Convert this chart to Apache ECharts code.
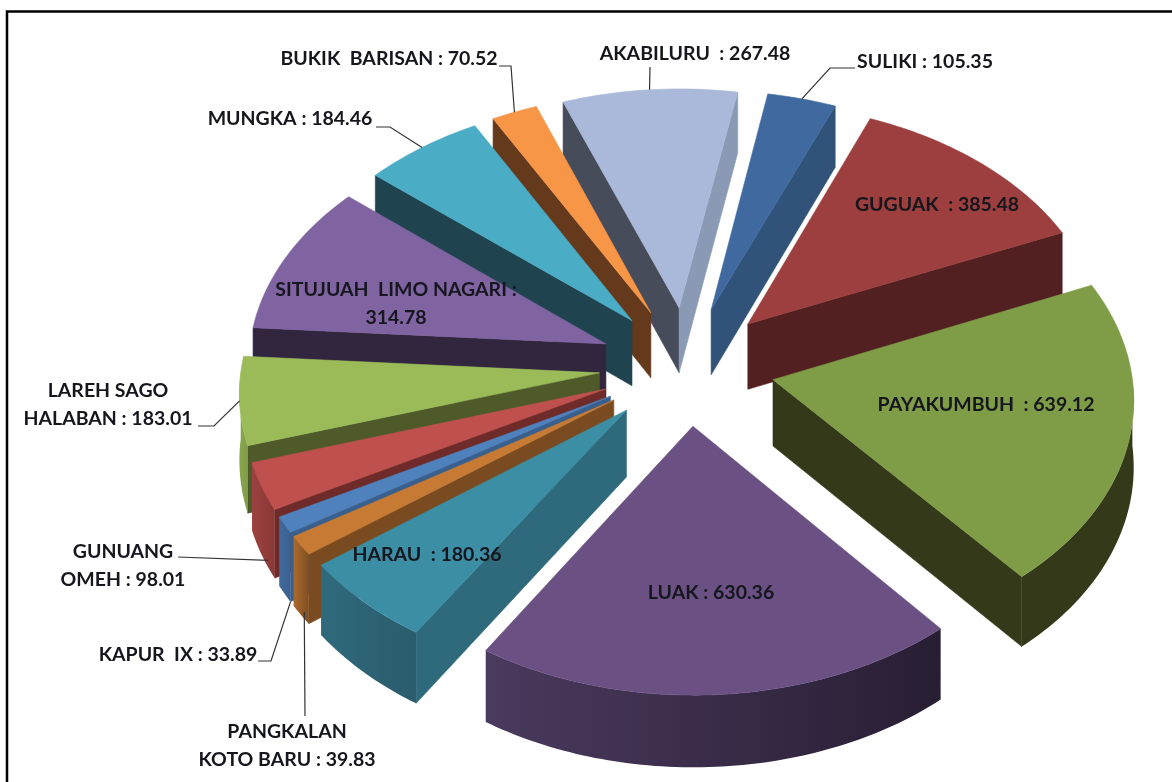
<!DOCTYPE html>
<html>
<head>
<meta charset="utf-8">
<title>Pie</title>
<style>
	html, body { margin: 0; padding: 0; background: #fff; }
	#main { width: 1172px; height: 782px; }
</style>
<script src="https://cdn.jsdelivr.net/npm/echarts@6/dist/echarts.min.js"></script>
</head>
<body>
<div id="main"></div>
<script>
// clockwise, first slice starts at startAngle
var names = ['AKABILURU ', 'SULIKI', 'GUGUAK ', 'PAYAKUMBUH ', 'LUAK', 'HARAU ', 'PANGKALAN\nKOTO BARU', 'KAPUR  IX', 'GUNUANG\nOMEH', 'LAREH SAGO\nHALABAN', 'SITUJUAH  LIMO NAGARI', 'MUNGKA', 'BUKIK  BARISAN'];
var values = [267.48, 105.35, 385.48, 639.12, 630.36, 180.36, 39.83, 33.89, 98.01, 183.01, 314.78, 184.46, 70.52];

// top face, start cut, end cut, outer wall left, outer wall right
var topColors = ['#aab9d9', '#3f699f', '#9c3f3e', '#7f9c47', '#6b5183', '#3c8ea5', '#c67a33', '#4f81bd', '#c0504d', '#9bbb59', '#8064a2', '#4bacc6', '#f79646'];
var startCutColors = ['#474c5b', '#2a4666', '#522020', '#34391a', '#2c2236', '#2e6a7c', '#7a4b20', '#395f8c', '#6e2b2a', '#4f5a2a', '#32263f', '#1f444f', '#653a1c'];
var endCutColors = ['#8a9ab5', '#315279', '#522020', '#34391a', '#2c2236', '#2e6a7c', '#7a4b20', '#395f8c', '#6e2b2a', '#4f5a2a', '#32263f', '#1f444f', '#653a1c'];
var wallLeftColors = ['#8a9ab5', '#315279', '#522020', '#34391a', '#4a3a5e', '#2f6a7c', '#ab6a2c', '#41699a', '#9c4240', '#8aa64f', '#32263f', '#1f444f', '#653a1c'];
var wallRightColors = ['#8a9ab5', '#315279', '#522020', '#34391a', '#281e33', '#2a5c6c', '#7f4e22', '#3a6190', '#8a3836', '#7f9c47', '#32263f', '#1f444f', '#653a1c'];

// label centres in px, and the bends of their leader lines
var labelCenters = [[695, 54], [925, 62], [937, 205], [986, 405], [711, 593], [427, 555], [287, 746], [178, 655], [123, 566], [108, 405], [396, 304], [290, 119], [389, 59]];
var leaders = {
	0: { pts: [[650, 67]], drop: 0, turn: 0 },
	1: { pts: [[855, 68], [830, 68]], drop: 0, turn: 0 },
	7: { pts: [[258, 661], [271, 661]], drop: 1, turn: -2 },
	6: { pts: [[305, 716]], drop: 0.9, turn: -1 },
	8: { pts: [[178, 557]], drop: 0.9, turn: -3 },
	9: { pts: [[198, 426], [214, 426]], drop: 0, turn: 0 },
	11: { pts: [[376, 127], [390, 127]], drop: 0, turn: 0 },
	12: { pts: [[499, 66], [511, 66]], drop: 0, turn: 0 }
};

var startAngle = -20.6;
var cx = 687, cy = 366;
var radius = 358, explode = 88, tilt = 0.675, depth = 66, eye = 5200;

var total = 0;
for (var i = 0; i < values.length; i++) {
	total += values[i];
}

function rad(a) {
	return a * Math.PI / 180;
}

// plane point (y towards the viewer) to screen, drop = wall height below top face
function project(x, y, drop) {
	var s = 1 / (1 - y / eye);
	return [cx + x * s, cy + (y * tilt + drop) * s];
}

function rimPoint(mid, a, drop) {
	var ox = Math.sin(rad(mid)) * explode, oy = -Math.cos(rad(mid)) * explode;
	return project(ox + Math.sin(rad(a)) * radius, oy - Math.cos(rad(a)) * radius, drop);
}

function arc(mid, from, to, drop) {
	var pts = [];
	var n = Math.max(2, Math.ceil(Math.abs(to - from)));
	for (var j = 0; j <= n; j++) {
		pts.push(rimPoint(mid, from + (to - from) * j / n, drop));
	}
	return pts;
}

function poly(points, color, z2) {
	return {
		type: 'polygon',
		shape: { points: points },
		z2: z2,
		style: { fill: color, stroke: typeof color === 'string' ? color : null, lineWidth: typeof color === 'string' ? 0.6 : 0 }
	};
}

function labelText(idx) {
	var sep = names[idx].indexOf('SITUJUAH') === 0 ? ' :\n' : ' : ';
	return names[idx] + sep + values[idx].toFixed(2);
}

function renderSlice(params, api) {
	var idx = params.dataIndex;
	var before = 0;
	for (var j = 0; j < idx; j++) {
		before += values[j];
	}
	var a0 = startAngle + before / total * 360;
	var a1 = a0 + api.value(0) / total * 360;
	var mid = (a0 + a1) / 2;
	var ox = Math.sin(rad(mid)) * explode, oy = -Math.cos(rad(mid)) * explode;
	var apexTop = project(ox, oy, 0);
	var apexBottom = project(ox, oy, depth);
	// back to front
	var base = Math.round((1 - Math.cos(rad(mid))) * 100) * 10;
	var children = [];

	if (Math.sin(rad(a0)) < 0) {
		children.push(poly([apexTop, rimPoint(mid, a0, 0), rimPoint(mid, a0, depth), apexBottom], startCutColors[idx], base + 1));
	}
	if (Math.sin(rad(a1)) > 0) {
		children.push(poly([apexTop, rimPoint(mid, a1, 0), rimPoint(mid, a1, depth), apexBottom], endCutColors[idx], base + 1));
	}
	var wFrom = Math.max(a0, 90), wTo = Math.min(a1, 270);
	if (wTo > wFrom) {
		var wall = arc(mid, wFrom, wTo, 0).concat(arc(mid, wTo, wFrom, depth));
		children.push(poly(wall, new echarts.graphic.LinearGradient(0, 0, 1, 0, [
			{ offset: 0, color: wallLeftColors[idx] },
			{ offset: 1, color: wallRightColors[idx] }
		]), base + 2));
	}
	children.push(poly([apexTop].concat(arc(mid, a0, a1, 0)), topColors[idx], base + 3));

	// leader line
	var lead = leaders[idx];
	if (lead) {
		children.push({
			type: 'polyline',
			shape: { points: lead.pts.concat([rimPoint(mid, mid + lead.turn, lead.drop * depth)]) },
			z2: 5000,
			style: { fill: null, stroke: '#333', lineWidth: 1.2 }
		});
	}

	children.push({
		type: 'text',
		x: labelCenters[idx][0],
		y: labelCenters[idx][1],
		z2: 6000,
		style: {
			text: labelText(idx),
			fill: '#16161e',
			font: 'bold 19.5px Lato, "Open Sans", sans-serif',
			lineHeight: 28,
			align: 'center',
			verticalAlign: 'middle'
		}
	});

	return { type: 'group', children: children };
}

var myChart = echarts.init(document.getElementById('main'));
myChart.setOption({
	animation: false,
	backgroundColor: '#fff',
	graphic: [{
		type: 'rect',
		shape: { x: 7, y: 11.5, width: 1400, height: 1000 },
		silent: true,
		style: { fill: null, stroke: '#000', lineWidth: 2.5 }
	}],
	series: [{
		type: 'custom',
		coordinateSystem: 'none',
		silent: true,
		data: values,
		renderItem: renderSlice
	}]
});
</script>
</body>
</html>
